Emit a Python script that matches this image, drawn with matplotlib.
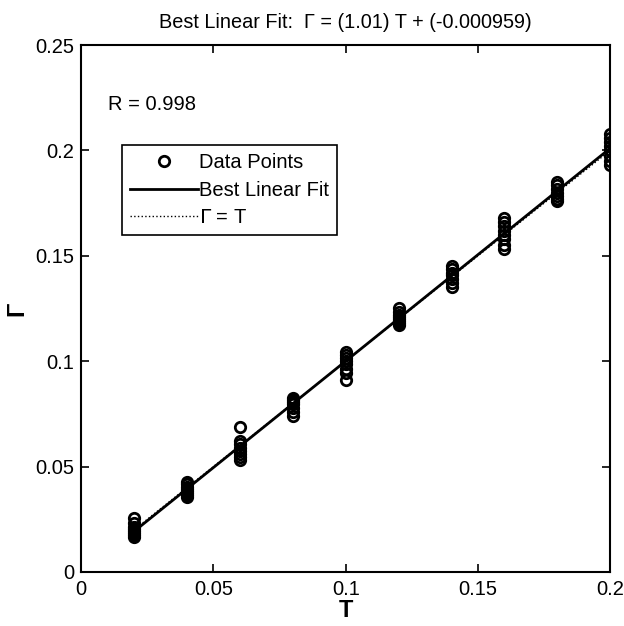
import numpy as np
import matplotlib
matplotlib.use("Agg")
import matplotlib.pyplot as plt

plt.rcParams['font.family'] = ['Liberation Sans', 'DejaVu Sans']

# targets (T) and network outputs (Gamma), several runs per target
targets = [0.02, 0.04, 0.06, 0.08, 0.10, 0.12, 0.14, 0.16, 0.18, 0.20]
outputs = [
    [0.0165, 0.0175, 0.0185, 0.0195, 0.0205, 0.0215, 0.0230, 0.0255],
    [0.0355, 0.0365, 0.0375, 0.0385, 0.0395, 0.0405, 0.0415, 0.0425],
    [0.0530, 0.0545, 0.0560, 0.0575, 0.0590, 0.0605, 0.0620, 0.0690],
    [0.0740, 0.0760, 0.0780, 0.0795, 0.0805, 0.0815, 0.0825],
    [0.0910, 0.0945, 0.0965, 0.0985, 0.1000, 0.1015, 0.1030, 0.1045],
    [0.1170, 0.1180, 0.1190, 0.1200, 0.1210, 0.1220, 0.1235, 0.1250],
    [0.1350, 0.1370, 0.1390, 0.1410, 0.1420, 0.1435, 0.1450],
    [0.1530, 0.1550, 0.1580, 0.1600, 0.1620, 0.1640, 0.1660, 0.1680],
    [0.1760, 0.1770, 0.1785, 0.1800, 0.1815, 0.1835, 0.1850],
    [0.1930, 0.1950, 0.1975, 0.2000, 0.2020, 0.2040, 0.2060, 0.2080],
]
slope = 1.01
intercept = -0.000959
r_value = 0.998

fig = plt.figure(figsize=(6.24, 6.26), dpi=100)
ax = fig.add_axes([0.130, 0.0863, 0.848, 0.8418])

xs = np.concatenate([[t] * len(o) for t, o in zip(targets, outputs)])
ys = np.concatenate(outputs)
ax.plot(xs, ys, 'o', mfc='none', mec='black', ms=7.5, mew=2, label='Data Points')

t_line = np.array([min(targets), max(targets)])
ax.plot(t_line, slope * t_line + intercept, '-', color='black', lw=2, label='Best Linear Fit')
ax.plot(t_line, t_line, ':', color='black', lw=1, label=r'$\Gamma$ = T')

ax.set_xlim(0, 0.2)
ax.set_ylim(0, 0.25)
ax.set_xticks([0, 0.05, 0.1, 0.15, 0.2])
ax.set_xticklabels(['0', '0.05', '0.1', '0.15', '0.2'])
ax.set_yticks([0, 0.05, 0.1, 0.15, 0.2, 0.25])
ax.set_yticklabels(['0', '0.05', '0.1', '0.15', '0.2', '0.25'])
ax.tick_params(axis='x', pad=6)
ax.tick_params(axis='y', pad=5)
ax.tick_params(direction='in', top=True, right=True, labelsize=14.5, length=6, width=1.2)
for s in ax.spines.values():
    s.set_linewidth(1.5)

ax.set_xlabel('T', fontsize=17, fontweight='bold', labelpad=0)
ax.set_ylabel('Γ', fontsize=17, fontweight='bold', labelpad=5)
ax.set_title('Best Linear Fit:  Γ = (%.2f) T + (%g)' % (slope, intercept), fontsize=14.3, pad=12)
ax.text(0.0102, 0.222, 'R = %.3f' % r_value, fontsize=14.5, va='center')

leg = ax.legend(loc='upper left', bbox_to_anchor=(0.077, 0.81), fontsize=14.5,
                frameon=True, fancybox=False, edgecolor='black', framealpha=1,
                handlelength=3.4, handletextpad=0.05, borderpad=0.4, labelspacing=0.42,
                borderaxespad=0)
leg.get_frame().set_linewidth(1.2)

fig.savefig('out.png', dpi=100)
